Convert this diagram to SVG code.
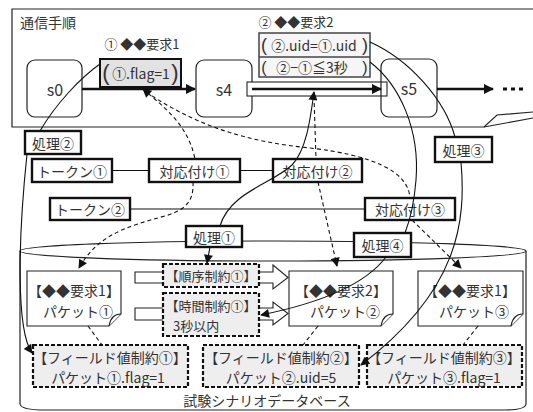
<svg xmlns="http://www.w3.org/2000/svg" width="533" height="412" viewBox="0 0 533 412">
<defs>
<style>
text{font-family:"Noto Sans CJK JP","Noto Sans",sans-serif;fill:#333;font-size:14px;dominant-baseline:central;text-anchor:middle}
.st{font-size:16px}
.sm{font-size:13px}
.br{font-size:22px;font-family:"Liberation Sans",sans-serif}
.br2{font-size:18px;font-family:"Liberation Sans",sans-serif}
.br3{font-size:16px;font-family:"Liberation Sans",sans-serif}
.state{fill:#fff;stroke:#222;stroke-width:1.2}
.lbl{fill:#fff;stroke:#111;stroke-width:2.4}
.pkt{fill:#fff;stroke:#222;stroke-width:1.1}
.cons{fill:#eeeeee;stroke:#111;stroke-width:2.2;stroke-dasharray:4 2}
.ln{fill:none;stroke:#111;stroke-width:1.1}
.dl{fill:none;stroke:#111;stroke-width:1.1;stroke-dasharray:4 3}
.thick{fill:none;stroke:#111;stroke-width:2.6}
.hol{fill:#fff;stroke:#222;stroke-width:1.1}
</style>
<marker id="ah" viewBox="0 0 10 10" refX="9" refY="5" markerWidth="10" markerHeight="9" markerUnits="userSpaceOnUse" orient="auto-start-reverse"><path d="M0,0 L10,5 L0,10 Z" fill="#111"/></marker>
<marker id="ahb" viewBox="0 0 10 10" refX="9" refY="5" markerWidth="12" markerHeight="10" markerUnits="userSpaceOnUse" orient="auto"><path d="M0,0 L10,5 L0,10 Z" fill="#111"/></marker>
</defs>
<rect width="533" height="412" fill="#fff"/>

<g id="frame">
<path d="M533,9 H12 V127 H484 L497,115 L533,112" fill="none" stroke="#222" stroke-width="1.2"/>
<path d="M484,127 L533,118" fill="none" stroke="#222" stroke-width="1.1"/>
<text x="20" y="22" style="text-anchor:start">通信手順</text>
</g>

<g id="database">
<path d="M20,251 V404 Q21,410 45,410 H505 Q525,410 526,404 V251" fill="#fff" stroke="#222" stroke-width="1.2"/>
<ellipse cx="273" cy="251" rx="253" ry="10" fill="#fff" stroke="#222" stroke-width="1.2"/>
<text x="267" y="400">試験シナリオデータベース</text>
</g>

<g id="s0"><rect class="state" x="27" y="60" width="55" height="57" rx="8"/><text class="st" x="55" y="89">s0</text></g>
<g id="s4"><rect class="state" x="196" y="60" width="56" height="57" rx="8"/><text class="st" x="224" y="89">s4</text></g>
<g id="order-band"><rect x="247" y="82" width="140" height="14" fill="#fff" stroke="#222" stroke-width="1.1"/></g>
<g id="s5"><rect x="381" y="59" width="56" height="58" rx="8" fill="none" stroke="#222" stroke-width="1.2"/><text class="st" x="409" y="88">s5</text></g>

<g id="req1">
<text class="sm" x="142" y="43">① ◆◆要求1</text>
<rect x="100" y="59" width="81" height="28" fill="#e2e2e2" stroke="#111" stroke-width="2"/>
<text class="br" x="106" y="72">(</text><text class="br" x="175" y="72">)</text>
<text x="141" y="73">①.flag=1</text>
</g>

<g id="req2">
<text class="sm" x="296" y="21">② ◆◆要求2</text>
<rect x="259" y="33" width="111" height="44" fill="#f6f6f6" stroke="#444" stroke-width="1.5"/>
<line x1="259" y1="57" x2="370" y2="57" stroke="#444" stroke-width="1.3"/>
<text class="br2" x="264" y="45">(</text><text class="br2" x="365" y="45">)</text>
<text x="314" y="45">②.uid=①.uid</text>
<text class="br3" x="264" y="67">(</text><text class="br3" x="365" y="67">)</text>
<text x="312" y="67">②−①≦3秒</text>
</g>

<g id="hollow-arrows">
<path class="hol" d="M135,272 H273 V265 L288,277.5 L273,289 V283 H135 Z"/>
<path class="hol" d="M135,308 H273 V302 L288,313.5 L273,325 V320 H135 Z"/>
</g>

<g id="order1"><rect class="cons" x="163" y="264" width="96" height="23"/><text class="sm" x="211" y="275.5">【順序制約①】</text></g>
<g id="time1"><rect class="cons" x="163" y="293" width="96" height="43"/><text class="sm" x="211" y="305">【時間制約①】</text><text class="sm" x="173" y="325" style="text-anchor:start">3秒以内</text></g>

<g id="packet1"><path class="pkt" d="M27,271 H121 V314 L109,326 H27 Z"/><path class="pkt" d="M121,314 Q111,314 109,326"/><text x="74" y="290">【◆◆要求1】</text><text x="78" y="311">パケット①</text></g>
<g id="packet2"><path class="pkt" d="M289,271 H393 V314 L381,326 H289 Z"/><path class="pkt" d="M393,314 Q383,314 381,326"/><text x="341" y="290">【◆◆要求2】</text><text x="345" y="311">パケット②</text></g>
<g id="packet3"><path class="pkt" d="M418,271 H523 V314 L511,326 H418 Z"/><path class="pkt" d="M523,314 Q513,314 511,326"/><text x="470" y="290">【◆◆要求1】</text><text x="474" y="311">パケット③</text></g>

<g id="field1"><rect class="cons" x="33" y="345" width="155" height="42"/><text x="110" y="357">【フィールド値制約①】</text><text x="108" y="377">パケット①.flag=1</text></g>
<g id="field2"><rect class="cons" x="203" y="345" width="156" height="42"/><text x="281" y="357">【フィールド値制約②】</text><text x="281" y="377">パケット②.uid=5</text></g>
<g id="field3"><rect class="cons" x="367" y="345" width="155" height="42"/><text x="444" y="357">【フィールド値制約③】</text><text x="444" y="377">パケット③.flag=1</text></g>

<g id="proc2"><rect class="lbl" x="25" y="131" width="56" height="23"/><text x="53" y="142.5">処理②</text></g>
<g id="token1"><rect class="lbl" x="32" y="159" width="80" height="23"/><text x="72" y="170.5">トークン①</text></g>
<g id="map1"><rect class="lbl" x="149" y="159" width="91" height="23"/><text x="194.5" y="170.5">対応付け①</text></g>
<g id="map2"><rect class="lbl" x="273" y="159" width="89" height="23"/><text x="317.5" y="170.5">対応付け②</text></g>
<g id="token2"><rect class="lbl" x="50" y="198" width="80" height="22"/><text x="90" y="209">トークン②</text></g>
<g id="map3"><rect class="lbl" x="365" y="198" width="90" height="22"/><text x="410" y="209">対応付け③</text></g>
<g id="proc3"><rect class="lbl" x="435" y="137" width="57" height="25"/><text x="463.5" y="149.5">処理③</text></g>
<g id="proc1"><rect class="lbl" x="186" y="226" width="56" height="21"/><text x="214" y="236.5">処理①</text></g>
<g id="proc4"><rect class="lbl" x="354" y="233" width="57" height="24"/><text x="382.5" y="245">処理④</text></g>

<g id="connectors">
<line class="thick" x1="82" y1="89" x2="195" y2="89" marker-end="url(#ahb)"/>
<line class="thick" x1="252" y1="89" x2="381" y2="89" marker-end="url(#ahb)"/>
<line class="thick" x1="437" y1="89" x2="493" y2="89" marker-end="url(#ahb)"/>
<line x1="503" y1="89" x2="527" y2="89" stroke="#111" stroke-width="3" stroke-dasharray="4 4"/>
<line class="ln" x1="112" y1="170.5" x2="149" y2="170.5"/>
<line class="ln" x1="240" y1="170.5" x2="273" y2="170.5"/>
<line class="ln" x1="130" y1="209" x2="365" y2="209"/>
<path class="ln" d="M40,131 C55,105 80,78 100,64"/>
<path class="ln" d="M27,154 C18,240 16,330 32,353" marker-end="url(#ah)"/>
<path class="ln" d="M220,226 C230,192 272,184 292,165 C306,150 310,122 314,92" marker-end="url(#ah)"/>
<line class="ln" x1="210" y1="247" x2="207" y2="263" marker-end="url(#ah)"/>
<path class="ln" d="M370,42 C410,60 445,100 455,137"/>
<path class="ln" d="M461,162 C466,220 460,290 361,365" marker-end="url(#ah)"/>
<path class="ln" d="M370,62 C400,85 420,130 416,180 C414,205 410,220 405,233"/>
<path class="ln" d="M386,257 C365,285 320,303 261,315" marker-end="url(#ah)"/>
<path class="dl" d="M143,89 C165,108 188,125 195,159" marker-start="url(#ah)"/>
<path class="dl" d="M193,182 C194,202 185,210 165,216 C125,227 98,235 79,268" marker-end="url(#ah)"/>
<path class="dl" d="M146,92 C200,128 250,142 310,148 C370,155 408,170 410,198"/>
<path class="dl" d="M412,220 L461,268" marker-end="url(#ah)"/>
<path class="dl" d="M314,96 L316,159"/>
<path class="dl" d="M318,182 L337,266" marker-end="url(#ah)"/>
<line class="dl" x1="88" y1="326" x2="102" y2="345"/>
<line class="dl" x1="318" y1="326" x2="303" y2="345"/>
<line class="dl" x1="478" y1="326" x2="463" y2="345"/>
</g>
</svg>
